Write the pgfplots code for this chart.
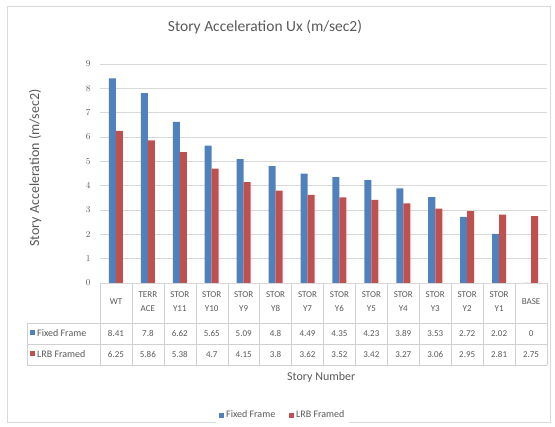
\documentclass[border=0pt]{standalone}
\usepackage{pgfplots}
\pgfplotsset{compat=1.18}
\usepackage{pgfplotstable}
\usepackage{fontspec}
\setmainfont{Carlito}
\definecolor{fixedc}{HTML}{4F81BD}
\definecolor{lrbc}{HTML}{C0504D}
\definecolor{txt}{HTML}{595959}
\definecolor{gridc}{HTML}{D9D9D9}
\definecolor{tablec}{HTML}{D0D0D0}

\pgfplotstableread{
x fixed lrb
0 8.41 6.25
1 7.8 5.86
2 6.62 5.38
3 5.65 4.7
4 5.09 4.15
5 4.8 3.8
6 4.49 3.62
7 4.35 3.52
8 4.23 3.42
9 3.89 3.27
10 3.53 3.06
11 2.72 2.95
12 2.02 2.81
13 0 2.75
}\datatable

\pgfplotsset{/pgfplots/ybar legend/.style={/pgfplots/legend image code/.code={\fill[##1] (0pt,-2.5pt) rectangle (5pt,2.5pt);}}}

\begin{document}
\begin{tikzpicture}[x=1pt,y=1pt]
\useasboundingbox (-100,-144) rectangle (455,283);
\draw[gridc] (-93,-139) rectangle (450,277);
\begin{axis}[
 at={(0,0)}, anchor=south west,
 scale only axis, width=447pt, height=219pt,
 xmin=-0.5, xmax=13.5, ymin=0, ymax=9,
 ytick={0,...,9}, xtick={0,...,13},
 xticklabels={WT,TERR\\ACE,STOR\\Y11,STOR\\Y10,STOR\\Y9,STOR\\Y8,STOR\\Y7,STOR\\Y6,STOR\\Y5,STOR\\Y4,STOR\\Y3,STOR\\Y2,STOR\\Y1,BASE},
 ymajorgrids, grid style={gridc, line width=0.6pt},
 axis line style={draw=none},
 major tick length=0pt,
 ybar=0pt, bar width=7pt,
 tick label style={font=\fontsize{9}{10}\selectfont, text=txt},
 yticklabel style={xshift=-6pt},
 xticklabel style={align=center, anchor=center, yshift=-19pt, font=\fontsize{9}{14}\selectfont},
 title={Story Acceleration Ux (m/sec2)},
 title style={at={(axis description cs:0.369,1.142)}, anchor=center, font=\fontsize{15.5}{18}\selectfont, text=txt},
 xlabel={Story Number},
 xlabel style={at={(axis description cs:0.495,0)}, anchor=center, yshift=-94pt, font=\fontsize{12}{14}\selectfont, text=txt},
 ylabel={Story Acceleration (m/sec2)},
 ylabel style={at={(axis description cs:-0.145,0.525)}, anchor=center, font=\fontsize{14}{16}\selectfont, text=txt},
 legend style={at={(axis description cs:0.409,-0.603)}, anchor=center, draw=none, legend columns=2,
   font=\fontsize{10}{12}\selectfont, text=txt, /tikz/every even column/.append style={column sep=12pt}},
 clip=false,
]
\addplot[fill=fixedc, draw=none] table[x=x, y=fixed] {\datatable};
\addlegendentry{Fixed Frame}
\addplot[fill=lrbc, draw=none] table[x=x, y=lrb] {\datatable};
\addlegendentry{LRB Framed}
\end{axis}
% data table grid
\foreach \k in {0,...,14} \draw[tablec] ({\k*447/14},0) -- ({\k*447/14},-82);
\draw[tablec] (-73,-40) -- (447,-40);
\draw[tablec] (-73,-61) -- (447,-61);
\draw[tablec] (-73,-82) -- (447,-82);
\draw[tablec] (-73,-40) -- (-73,-82);
\fill[fixedc] (-70,-52.5) rectangle (-65,-47.5);
\fill[lrbc] (-70,-73.5) rectangle (-65,-68.5);
\node[anchor=west, text=txt, font=\fontsize{10}{12}\selectfont, inner sep=0pt] at (-63,-50.5) {Fixed Frame};
\node[anchor=west, text=txt, font=\fontsize{10}{12}\selectfont, inner sep=0pt] at (-63,-71.5) {LRB Framed};
\foreach \v [count=\i from 0] in {8.41,7.8,6.62,5.65,5.09,4.8,4.49,4.35,4.23,3.89,3.53,2.72,2.02,0}
  \node[text=txt, font=\fontsize{9}{10}\selectfont] at ({(\i+0.5)*447/14},-50.5) {\v};
\foreach \v [count=\i from 0] in {6.25,5.86,5.38,4.7,4.15,3.8,3.62,3.52,3.42,3.27,3.06,2.95,2.81,2.75}
  \node[text=txt, font=\fontsize{9}{10}\selectfont] at ({(\i+0.5)*447/14},-71.5) {\v};
\end{tikzpicture}
\end{document}
